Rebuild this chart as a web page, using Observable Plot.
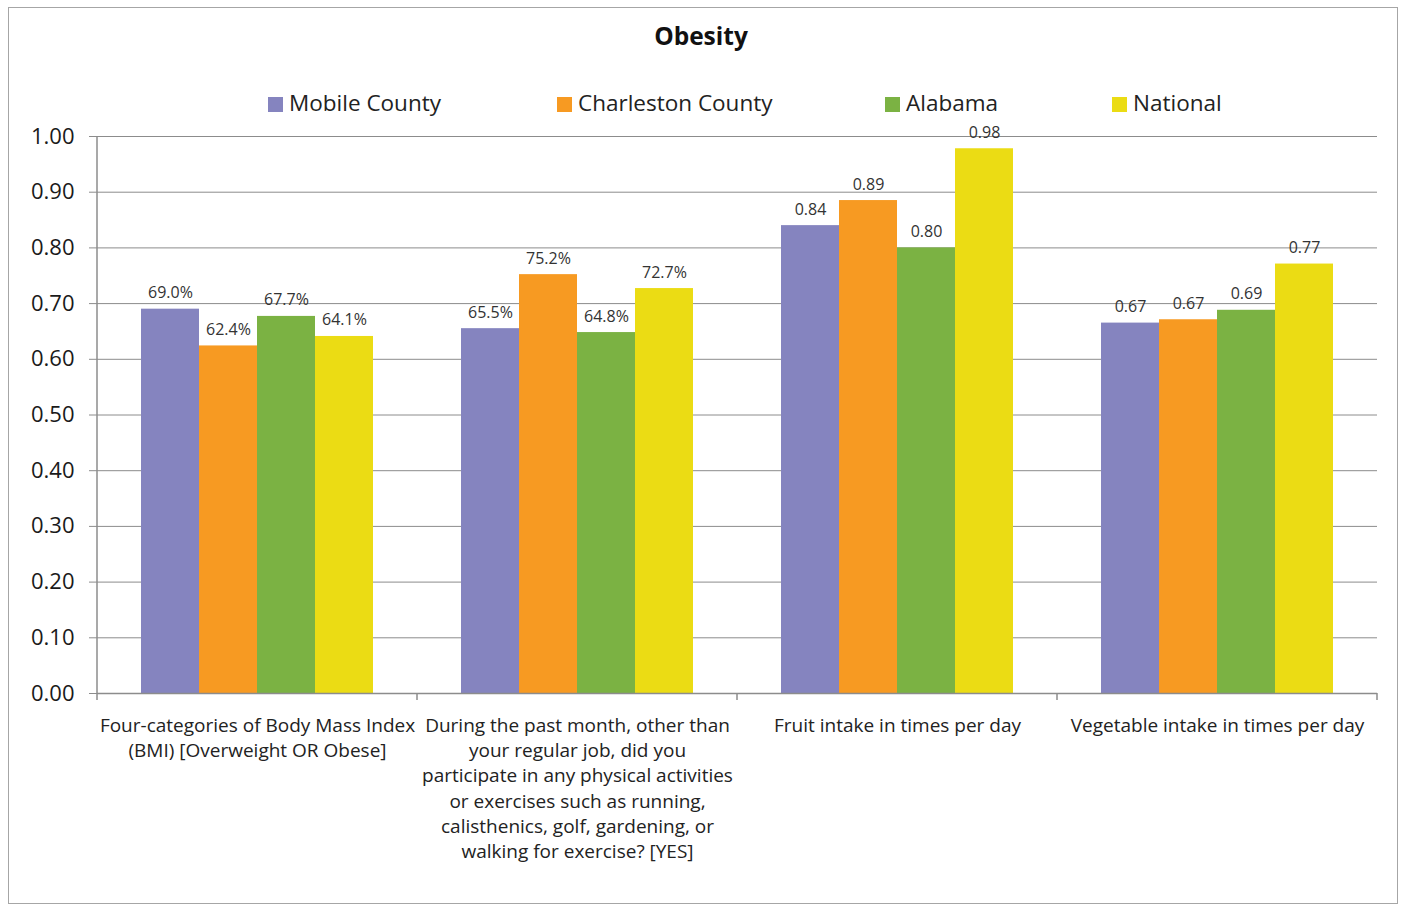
<!DOCTYPE html>
<html>
<head>
<meta charset="utf-8">
<script src="https://cdn.jsdelivr.net/npm/d3@7"></script>
<script src="https://cdn.jsdelivr.net/npm/@observablehq/plot@0.6"></script>
<style>
  html, body { margin: 0; padding: 0; background: #fff; }
  body { width: 1402px; height: 905px; position: relative; font-family: "Open Sans", sans-serif; color: #222; overflow: hidden; }
  #border { position: absolute; left: 8px; top: 7px; width: 1390px; height: 897px; border: 1.5px solid #a6a6a6; box-sizing: border-box; pointer-events: none; }
  #title { height: 72px; box-sizing: border-box; padding-top: 21px; line-height: 30px; font-size: 24.5px; font-weight: bold; text-align: center; color: #111; }
  #legend { position: relative; height: 48px; }
  .item { position: absolute; top: 19px; height: 24px; line-height: 24px; font-size: 22.5px; white-space: nowrap; }
  .sw { display: inline-block; width: 15px; height: 15px; margin-right: 6px; vertical-align: -1px; }
  #chart svg { display: block; }
</style>
</head>
<body>
<div id="border"></div>
<div id="title">Obesity</div>
<div id="legend"></div>
<div id="chart"></div>
<script>
const categories = [
  "Four-categories of Body Mass Index\n(BMI) [Overweight OR Obese]",
  "During the past month, other than\nyour regular job, did you\nparticipate in any physical activities\nor exercises such as running,\ncalisthenics, golf, gardening, or\nwalking for exercise? [YES]",
  "Fruit intake in times per day",
  "Vegetable intake in times per day"
];
const series = ["Mobile County", "Charleston County", "Alabama", "National"];
const colors = ["#8584bf", "#f79a22", "#7bb243", "#ebdc14"];
const mobileCounty     = [0.690, 0.655, 0.84, 0.665];
const charlestonCounty = [0.624, 0.752, 0.885, 0.671];
const alabama          = [0.677, 0.648, 0.80, 0.688];
const national         = [0.641, 0.727, 0.978, 0.771];
const percentCategory  = [true, true, false, false];
const yTicks = [0, 0.1, 0.2, 0.3, 0.4, 0.5, 0.6, 0.7, 0.8, 0.9, 1.0];
const legendX = [268, 557, 885, 1112];

const seriesValues = [mobileCounty, charlestonCounty, alabama, national];
const rows = categories.flatMap((c, i) => series.map((s, j) => ({
  category: c, series: s, value: seriesValues[j][i], ci: i
})));

// legend
const legend = d3.select("#legend");
series.forEach((s, j) => {
  const it = legend.append("div").attr("class", "item").style("left", legendX[j] + "px");
  it.append("span").attr("class", "sw").style("background", colors[j]);
  it.append("span").text(s);
});

const fmtPct = d3.format(".1%");
const fmtDec = d3.format(".2f");

const plot = Plot.plot({
  width: 1402,
  height: 775,
  marginLeft: 95,
  marginRight: 24,
  marginTop: 16,
  marginBottom: 202,
  style: { fontFamily: "Open Sans", background: "transparent", overflow: "visible" },
  fx: { domain: categories, padding: 0, axis: null },
  x: { domain: series, paddingInner: 0, paddingOuter: 0.74, axis: null },
  y: { domain: [0, 1], label: null },
  color: { domain: series, range: colors },
  marks: [
    Plot.gridY(yTicks, { stroke: "#8c8c8c", strokeOpacity: 1 }),
    Plot.barY(rows, { fx: "category", x: "series", y: "value", fill: "series" }),
    Plot.ruleY([0], { stroke: "#8c8c8c", strokeWidth: 1.5 }),
    Plot.text(rows, {
      fx: "category", x: "series", y: "value",
      text: d => percentCategory[d.ci] ? fmtPct(d.value) : fmtDec(d.value),
      lineAnchor: "bottom", dy: -11, fontSize: 16, fill: "#333"
    }),
    Plot.axisY(yTicks, {
      label: null, tickFormat: ".2f", tickSize: 8, tickPadding: 15, fontSize: 22,
      stroke: "#8c8c8c", fill: "#1a1a1a"
    }),
    Plot.text(categories, {
      fx: d => d, text: d => d, frameAnchor: "bottom", lineAnchor: "top",
      dy: 21, fontSize: 19, lineHeight: 1.32, fill: "#222"
    })
  ]
});

// y-axis line and category boundary ticks, positioned through the plot's scales
const fx = plot.scale("fx");
const ys = plot.scale("y");
const y0 = ys.apply(0), y1 = ys.apply(1);
const g = d3.select(plot).append("g").attr("stroke", "#8c8c8c").attr("stroke-width", 1.5);
const x0 = fx.apply(categories[0]);
g.append("line").attr("x1", x0).attr("x2", x0).attr("y1", y1).attr("y2", y0);
const bounds = categories.map(c => fx.apply(c)).concat([fx.apply(categories[categories.length - 1]) + fx.bandwidth]);
bounds.forEach(b => {
  g.append("line").attr("x1", b).attr("x2", b).attr("y1", y0).attr("y2", y0 + 7);
});

document.getElementById("chart").appendChild(plot);
</script>
</body>
</html>
